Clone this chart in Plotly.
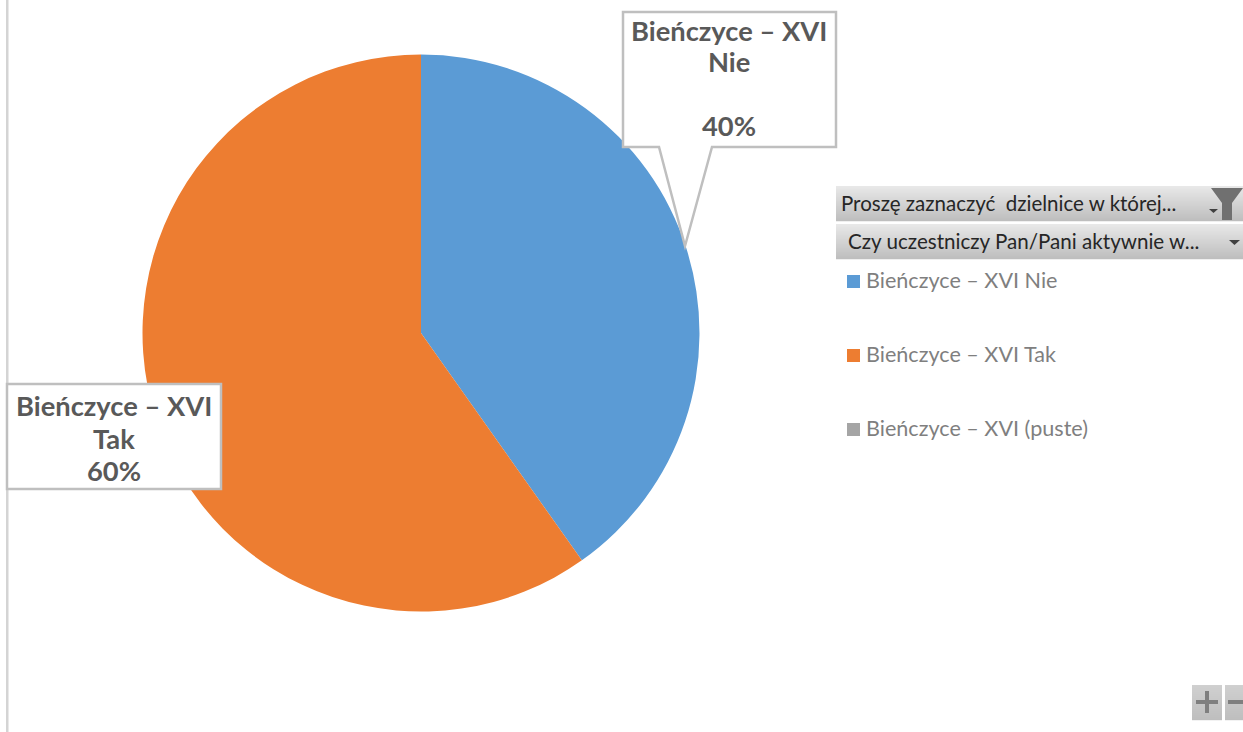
import plotly.graph_objects as go

W, H = 1243, 732

categories = ["Bieńczyce – XVI Nie", "Bieńczyce – XVI Tak", "Bieńczyce – XVI (puste)"]
values = [40.2, 59.8, 0]
colors = ["#5B9BD5", "#ED7D31", "#A5A5A5"]
filter_labels = ["Proszę zaznaczyć  dzielnice w której...", "Czy uczestniczy Pan/Pani aktywnie w..."]
callout_nie = ["Bieńczyce – XVI", "Nie", "40%"]
callout_tak = ["Bieńczyce – XVI", "Tak", "60%"]


def px(x):
    return x / W


def py(y):
    return 1 - y / H


def rect(x0, y0, x1, y1, fill, line=None, lw=0):
    return dict(type="rect", xref="paper", yref="paper", x0=px(x0), x1=px(x1), y0=py(y0), y1=py(y1),
                fillcolor=fill, line=dict(color=line or fill, width=lw), layer="above")


def poly(points, fill="rgba(0,0,0,0)", line="rgba(0,0,0,0)", lw=0):
    d = "M " + " L ".join(f"{px(x):.5f},{py(y):.5f}" for x, y in points) + " Z"
    return dict(type="path", xref="paper", yref="paper", path=d, fillcolor=fill,
                line=dict(color=line, width=lw), layer="above")


def button(x0, y0, x1, y1, top=(232, 232, 232), bottom=(190, 190, 190)):
    out = []
    n = int(y1 - y0)
    for i in range(n):
        t = i / max(n - 1, 1)
        c = [round(a + (b - a) * t) for a, b in zip(top, bottom)]
        out.append(rect(x0, y0 + i, x1, y0 + i + 1.2, f"rgb({c[0]},{c[1]},{c[2]})"))
    return out


shapes = []
# left border of the chart area
shapes.append(rect(6, 0, 8.5, 732, "#D4D4D4"))
# callouts
shapes.append(poly([(623, 12), (836, 12), (836, 147), (712, 147), (685, 246), (659, 147), (623, 147)],
                   fill="#FFFFFF", line="#BFBFBF", lw=2.5))
shapes.append(rect(7, 384, 221, 489, "#FFFFFF", "#BFBFBF", 2.5))
# filter buttons
shapes += button(836, 186, 1243, 221)
shapes += button(836, 224, 1243, 259)
# funnel icon and drop arrows
shapes.append(poly([(1211, 188), (1243, 188), (1232, 203), (1232, 220), (1222, 220), (1222, 203)], fill="#707070"))
shapes.append(poly([(1209, 209), (1218, 209), (1213.5, 213)], fill="#404040"))
shapes.append(poly([(1229, 240), (1240, 240), (1234.5, 245)], fill="#404040"))
# legend swatches
legend_y = [281, 355, 429]
for c, y in zip(colors, legend_y):
    shapes.append(rect(847, y - 6, 860, y + 7, c))
# zoom buttons
shapes += button(1192, 685, 1222, 720, (208, 208, 208), (190, 190, 190))
shapes += button(1225, 685, 1243, 720, (208, 208, 208), (190, 190, 190))
shapes.append(rect(1196, 700, 1218, 704, "#7F7F7F"))
shapes.append(rect(1205, 691, 1209, 713, "#7F7F7F"))
shapes.append(rect(1228, 700, 1243, 704, "#7F7F7F"))

annotations = []


def text(x, y, s, size, color, anchor="left", family="Lato"):
    annotations.append(dict(xref="paper", yref="paper", x=px(x), y=py(y), text=s, showarrow=False,
                            xanchor=anchor, yanchor="middle", align="center" if anchor == "center" else "left",
                            font=dict(family=family, size=size, color=color)))


for line, y in zip(callout_nie, [31, 62, 126]):
    text(729, y, f"<b>{line}</b>", 27.3, "#595959", "center")
for line, y in zip(callout_tak, [406, 438, 470]):
    text(114, y, f"<b>{line}</b>", 27.3, "#595959", "center")
text(839, 203, filter_labels[0], 20.5, "#262626")
text(846, 241, filter_labels[1], 20.6, "#262626")
for cat, y in zip(categories, legend_y):
    text(864, y - 1, cat, 21.6, "#7F7F7F")

fig = go.Figure(go.Pie(
    labels=categories,
    values=values,
    sort=False,
    direction="clockwise",
    rotation=0,
    marker=dict(colors=colors, line=dict(width=0)),
    textinfo="none",
    showlegend=False,
    domain=dict(x=[px(142.5), px(699.5)], y=[py(611.5), py(54.5)]),
))
fig.update_layout(width=W, height=H, margin=dict(l=0, r=0, t=0, b=0), paper_bgcolor="#FFFFFF",
                  shapes=shapes, annotations=annotations, showlegend=False)
fig.write_html("out.html", config=dict(displayModeBar=False), post_script="document.body.style.margin='0';")
